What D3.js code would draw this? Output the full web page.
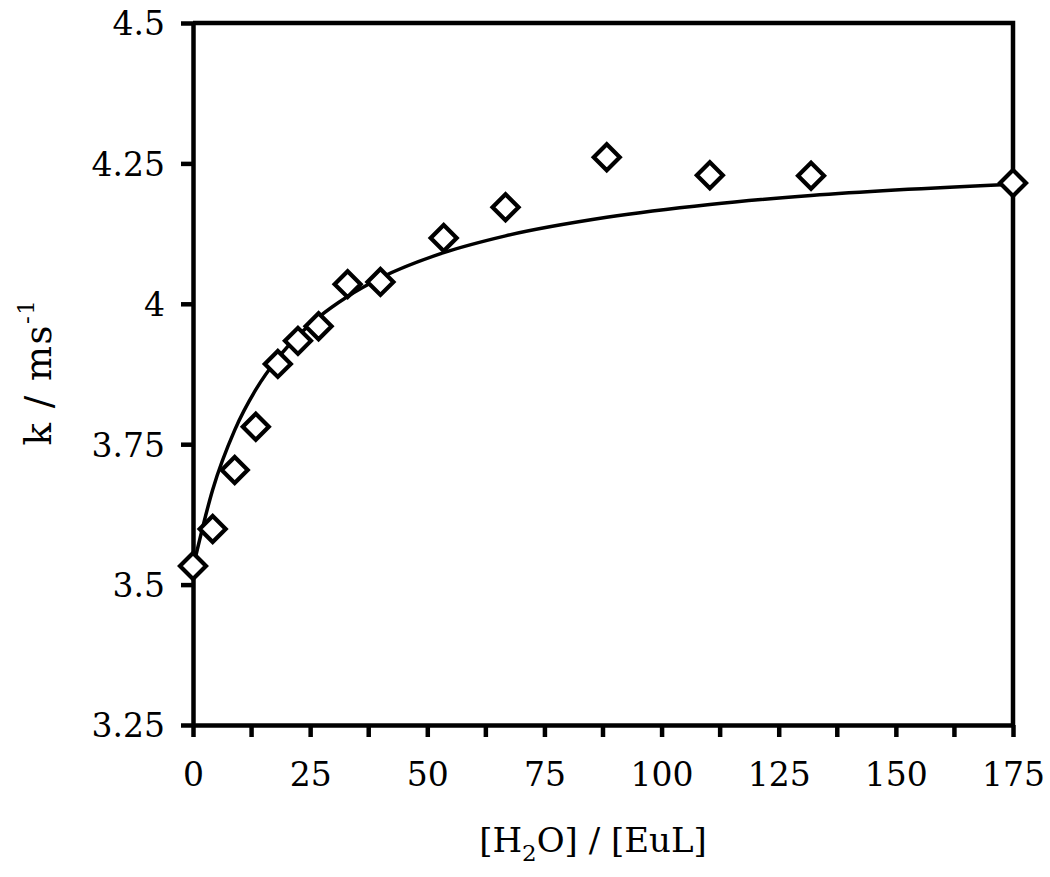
<!DOCTYPE html>
<html>
<head>
<meta charset="utf-8">
<script src="https://cdn.jsdelivr.net/npm/d3@7"></script>
<style>
  html, body { margin: 0; padding: 0; background: #fff; }
  svg { display: block; }
  text { font-family: "DejaVu Serif", "Liberation Serif", serif; fill: #000; }
</style>
</head>
<body>
<svg id="chart" width="1050" height="877"></svg>
<script>
// Measured points
const ratio = [0, 4.2, 8.9, 13.4, 18.1, 22.4, 26.8, 33.0, 40.0, 53.5, 66.7, 88.3, 110.3, 131.9, 175];
const kObs  = [3.533, 3.599, 3.704, 3.781, 3.893, 3.934, 3.960, 4.035, 4.039, 4.117, 4.172, 4.261, 4.229, 4.228, 4.215];
// Fitted line values at the same abscissas
const kFit  = [3.530, 3.669, 3.775, 3.847, 3.903, 3.943, 3.976, 4.013, 4.046, 4.091, 4.121, 4.154, 4.177, 4.193, 4.213];
// Ticks
const xMajor = [0, 25, 50, 75, 100, 125, 150, 175];
const xMinor = [12.5, 37.5, 62.5, 87.5, 112.5, 137.5, 162.5];
const yMajor = [3.25, 3.5, 3.75, 4, 4.25, 4.5];

const svg = d3.select("#chart");
const L = 193, R = 1013, T = 23, B = 725;
const x = d3.scaleLinear().domain([0, 175]).range([L, R]);
const y = d3.scaleLinear().domain([3.25, 4.5]).range([B, T]);

const fmtY = d => (d === 4 ? "4" : String(d));

// Frame (top and right)
svg.append("path")
  .attr("d", `M${L},${T}H${R}V${B}`)
  .attr("fill", "none").attr("stroke", "#000").attr("stroke-width", 4.5);

// X axis
const xAxis = svg.append("g").attr("transform", `translate(0,${B})`)
  .call(d3.axisBottom(x).tickValues(xMajor).tickSize(12).tickSizeOuter(0).tickPadding(26));
xAxis.append("g").selectAll("line").data(xMinor).join("line")
  .attr("x1", d => x(d)).attr("x2", d => x(d)).attr("y1", 0).attr("y2", 12)
  .attr("stroke", "#000").attr("stroke-width", 4.5);

// Y axis
const yAxis = svg.append("g").attr("transform", `translate(${L},0)`)
  .call(d3.axisLeft(y).tickValues(yMajor).tickFormat(fmtY).tickSize(12).tickSizeOuter(0).tickPadding(16));

[xAxis, yAxis].forEach(g => {
  g.select(".domain").attr("stroke", "#000").attr("stroke-width", 4.5);
  g.selectAll(".tick line").attr("stroke", "#000").attr("stroke-width", 4.5);
  g.selectAll(".tick text").attr("font-size", 33).attr("font-family", "DejaVu Serif");
});
yAxis.selectAll(".tick text").attr("dy", "0.36em");

// Fitted curve
const line = d3.line().x((d, i) => x(ratio[i])).y(d => y(d)).curve(d3.curveMonotoneX);
svg.append("path").datum(kFit).attr("d", line)
  .attr("fill", "none").attr("stroke", "#000").attr("stroke-width", 3.5);

// Markers
const s = 13;
svg.append("g").selectAll("path").data(kObs).join("path")
  .attr("d", (d, i) => {
    const cx = x(ratio[i]), cy = y(d);
    return `M${cx},${cy - s}L${cx + s},${cy}L${cx},${cy + s}L${cx - s},${cy}Z`;
  })
  .attr("fill", "#fff").attr("stroke", "#000").attr("stroke-width", 4.2).attr("stroke-linejoin", "miter");

// Axis titles
const xt = svg.append("text").attr("x", (L + R) / 2 - 10).attr("y", 852)
  .attr("text-anchor", "middle").attr("font-size", 34);
xt.append("tspan").text("[H");
xt.append("tspan").attr("font-size", 23).attr("dy", 9).text("2");
xt.append("tspan").attr("dy", -9).text("O] / [EuL]");

const yt = svg.append("text").attr("transform", "translate(51,372) rotate(-90)")
  .attr("text-anchor", "middle").attr("font-size", 37).attr("letter-spacing", 1.5);
yt.append("tspan").text("k / ms");
yt.append("tspan").attr("font-size", 23).attr("dy", -17).text("-1");
</script>
</body>
</html>
